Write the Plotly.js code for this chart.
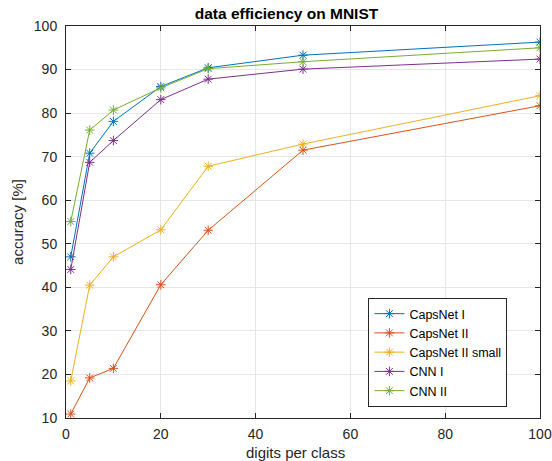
<!DOCTYPE html>
<html>
<head>
<meta charset="utf-8">
<script src="https://cdn.plot.ly/plotly-3.0.1.min.js"></script>
<style>html,body{margin:0;padding:0;background:#fff;}#chart{width:552px;height:461px;}</style>
</head>
<body>
<div id="chart"></div>
<script>
var digits = [1, 5, 10, 20, 30, 50, 100];
var seriesNames = ["CapsNet I", "CapsNet II", "CapsNet II small", "CNN I", "CNN II"];
var capsNetI = [47.0, 70.8, 78.1, 86.1, 90.4, 93.3, 96.3];
var capsNetII = [10.9, 19.2, 21.4, 40.6, 53.1, 71.5, 81.7];
var capsNetIISmall = [18.5, 40.5, 47.0, 53.2, 67.8, 72.9, 84.0];
var cnnI = [44.1, 68.7, 73.7, 83.1, 87.8, 90.1, 92.4];
var cnnII = [55.1, 76.1, 80.7, 85.8, 90.2, 91.8, 95.0];
var xTicks = [0, 20, 40, 60, 80, 100];
var yTicks = [10, 20, 30, 40, 50, 60, 70, 80, 90, 100];
var colors = ["#0072BD", "#D95319", "#EDB120", "#7E2F8E", "#77AC30"];
var allSeries = [capsNetI, capsNetII, capsNetIISmall, cnnI, cnnII];
var FONT = "Liberation Sans, Arial, Helvetica, sans-serif";

var traces = allSeries.map(function (ys, i) {
  return {
    x: digits, y: ys, name: seriesNames[i], type: "scatter", mode: "lines+markers",
    line: {color: colors[i], width: 1},
    marker: {symbol: "asterisk-open", size: 8, color: colors[i], line: {color: colors[i], width: 1}}
  };
});

var axisCommon = {
  showline: true, mirror: "ticks", linecolor: "#262626", linewidth: 1,
  ticks: "inside", ticklen: 5, tickcolor: "#262626",
  showgrid: true, gridcolor: "#e6e6e6", gridwidth: 1, zeroline: false,
  tickfont: {family: FONT, size: 14, color: "#262626"}
};

var layout = {
  width: 552, height: 461,
  margin: {l: 66, r: 12, t: 26, b: 43},
  paper_bgcolor: "#ffffff", plot_bgcolor: "#ffffff",
  title: {text: "<b>data efficiency on MNIST</b>", x: 0.519, xanchor: "center", y: 0.971, yanchor: "middle",
          font: {family: FONT, size: 15.5, color: "#000"}},
  xaxis: Object.assign({}, axisCommon, {
    range: [0, 100], tickvals: xTicks, ticklabelstandoff: 3
  }),
  yaxis: Object.assign({}, axisCommon, {
    range: [10, 100], tickvals: yTicks, ticklabelstandoff: 5,
    title: {text: "accuracy [%]", standoff: 6, font: {family: FONT, size: 15, color: "#262626"}}
  }),
  annotations: [{
    text: "digits per class", xref: "paper", yref: "paper",
    x: 0.485, y: -0.089, xanchor: "center", yanchor: "middle", showarrow: false,
    font: {family: FONT, size: 15, color: "#262626"}
  }],
  showlegend: true,
  legend: {x: 0.638, y: 0.028, xanchor: "left", yanchor: "bottom",
           bgcolor: "#ffffff", bordercolor: "#262626", borderwidth: 1,
           font: {family: FONT, size: 12.5, color: "#000"},
           tracegroupgap: 0}
};

Plotly.newPlot("chart", traces, layout, {displayModeBar: false, staticPlot: true});
</script>
</body>
</html>
